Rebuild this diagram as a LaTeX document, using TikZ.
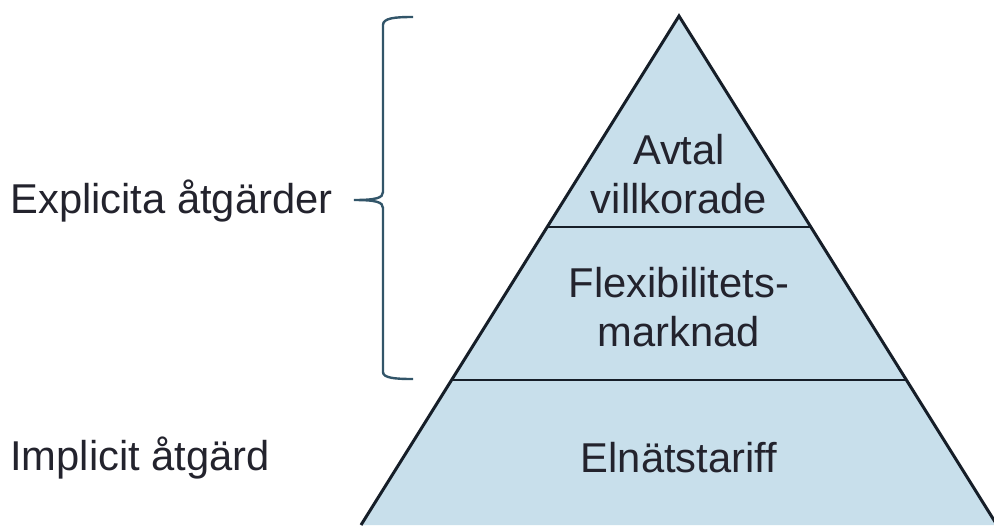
\documentclass[tikz,border=0pt]{standalone}
\usepackage{fontspec}
\setmainfont{Liberation Sans}
\usetikzlibrary{calc}
\definecolor{pyrFill}{RGB}{200,223,235}
\definecolor{pyrLine}{RGB}{22,30,40}
\definecolor{txtDark}{RGB}{35,35,45}
\definecolor{braceCol}{RGB}{50,85,105}

\begin{document}
\begin{tikzpicture}[
  x=0.5pt, y=-0.5pt,
  tier/.style={font=\fontsize{20.85}{24.5}\selectfont, text=txtDark, align=center, inner sep=0pt},
  side/.style={font=\fontsize{20.85}{24.5}\selectfont, text=txtDark, anchor=base west, inner sep=0pt},
]
  \useasboundingbox (0,0) rectangle (994,525);
  \coordinate (apex) at (679,16);
  \coordinate (bl) at (361,525);
  \coordinate (br) at (997,525);
  \begin{scope}
    \clip (0,0) rectangle (994,525);
    \draw[pyrLine, fill=pyrFill, line width=1.5pt, line join=miter] (bl) -- (apex) -- (br);
  \end{scope}
  \draw[pyrLine, line width=1.4pt] ($(apex)!0.4145!(bl)$) -- ($(apex)!0.4145!(br)$);
  \draw[pyrLine, line width=1.4pt] ($(apex)!0.715!(bl)$) -- ($(apex)!0.715!(br)$);

  \node[tier] (avtal) at (679,174) {Avtal\\villkorade};
  \node[tier] (flex) at (679,307) {Flexibilitets-\\marknad};
  \node[tier] (tariff) at (679,458) {Elnätstariff};

  \node[side] (explicit) at (10,213) {Explicita åtgärder};
  \node[side] (implicit) at (10,470) {Implicit åtgärd};

  \coordinate (btop) at (413,17);
  \coordinate (btip) at (354,200);
  \coordinate (bbot) at (413,379);
  \draw[braceCol, line width=1.2pt]
    (btop) .. controls (395,17) and (383,18) .. (383,25) -- (383,192)
    .. controls (383,198) and (376,200) .. (btip)
    .. controls (376,200) and (383,202) .. (383,208) -- (383,372)
    .. controls (383,378) and (395,379) .. (bbot);
\end{tikzpicture}
\end{document}
